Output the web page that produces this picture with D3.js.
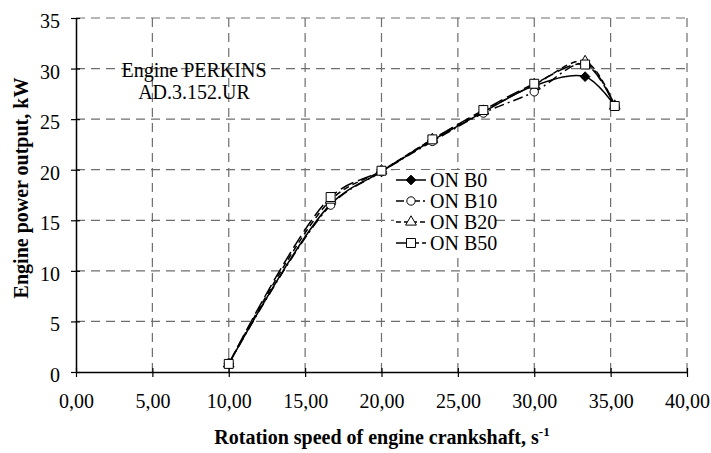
<!DOCTYPE html>
<html>
<head>
<meta charset="utf-8">
<script src="https://cdn.jsdelivr.net/npm/d3@7"></script>
<style>
  body { margin: 0; background: #fff; }
  text { font-family: "Liberation Serif", "Times New Roman", serif; fill: #000; }
</style>
</head>
<body>
<div id="chart"></div>
<script>
// rotation speed, s^-1
const speeds = [10.0, 16.67, 20.0, 23.33, 26.67, 30.0, 33.33, 35.27];
// engine power output, kW
const onB0  = [0.8, 16.6, 19.8, 22.9, 25.7, 28.3, 29.2, 26.3];
const onB10 = [0.8, 16.5, 19.8, 22.8, 25.6, 27.7, 30.5, 26.3];
const onB20 = [0.8, 17.0, 19.9, 23.0, 25.8, 28.4, 30.7, 26.3];
const onB50 = [0.8, 17.3, 19.9, 23.0, 25.9, 28.5, 30.4, 26.3];
const seriesNames = ['ON B0', 'ON B10', 'ON B20', 'ON B50'];
const xTicks = [0, 5, 10, 15, 20, 25, 30, 35, 40];
const yTicks = [0, 5, 10, 15, 20, 25, 30, 35];

const W = 711, H = 453;
const margin = { top: 18, right: 24, bottom: 81, left: 76 };
const width = W - margin.left - margin.right;
const height = H - margin.top - margin.bottom;

const svg = d3.select('#chart').append('svg')
    .attr('width', W).attr('height', H);
const g = svg.append('g')
    .attr('transform', `translate(${margin.left},${margin.top})`);

const x = d3.scaleLinear().domain([0, 40]).range([0, width]);
const y = d3.scaleLinear().domain([0, 35]).range([height, 0]);

// grid
g.selectAll('.vgrid').data(xTicks.slice(1)).enter().append('line')
    .attr('x1', d => x(d)).attr('x2', d => x(d))
    .attr('y1', 0).attr('y2', height)
    .attr('stroke', '#6e6e6e').attr('stroke-width', 1.2)
    .attr('stroke-dasharray', '9,6');
g.selectAll('.hgrid').data(yTicks.slice(1)).enter().append('line')
    .attr('x1', 0).attr('x2', width)
    .attr('y1', d => y(d)).attr('y2', d => y(d))
    .attr('stroke', '#6e6e6e').attr('stroke-width', 1.2)
    .attr('stroke-dasharray', '9,6');

// axes
const xAxis = d3.axisBottom(x).tickValues(xTicks)
    .tickFormat(d => d3.format('.2f')(d).replace('.', ','))
    .tickSizeInner(5).tickSizeOuter(0);
const yAxis = d3.axisLeft(y).tickValues(yTicks)
    .tickSizeInner(5).tickSizeOuter(0);

const gx = g.append('g').attr('transform', `translate(0,${height})`).call(xAxis);
const gy = g.append('g').call(yAxis);
[gx, gy].forEach(a => {
    a.select('.domain').attr('stroke', '#000').attr('stroke-width', 1.5);
    a.selectAll('.tick line').attr('stroke', '#000').attr('stroke-width', 1.2);
    a.selectAll('.tick text').style('font-size', '20px')
        .style('font-family', '"Liberation Serif", serif');
});
// ticks cross the axis
gx.selectAll('.tick line').attr('y1', -4).attr('y2', 5);
gy.selectAll('.tick line').attr('x1', 4).attr('x2', -5);
gx.selectAll('.tick text').attr('y', 36).attr('dy', 0);
gy.selectAll('.tick text').attr('x', -16).attr('dy', 9.5);

// series
const styles = [
    { dash: null, legendDash: null, marker: 'diamond', fill: '#000' },
    { dash: '10,4,2,4', legendDash: '8,3,2,3', marker: 'circle', fill: '#fff' },
    { dash: '6,4', legendDash: '5,3', marker: 'triangle', fill: '#fff' },
    { dash: '14,5', legendDash: '10,3', marker: 'square', fill: '#fff' }
];
const allSeries = [onB0, onB10, onB20, onB50];

const line = d3.line()
    .x(d => x(d[0])).y(d => y(d[1]))
    .curve(d3.curveCatmullRom.alpha(0.5));

const symbolOf = {
    diamond: d3.symbol().type(d3.symbolDiamond2).size(60),
    circle: d3.symbol().type(d3.symbolCircle).size(55),
    triangle: d3.symbol().type(d3.symbolTriangle).size(50),
    square: d3.symbol().type(d3.symbolSquare).size(80)
};

allSeries.forEach((vals, i) => {
    const pts = speeds.map((s, k) => [s, vals[k]]);
    g.append('path').datum(pts)
        .attr('d', line)
        .attr('fill', 'none')
        .attr('stroke', '#000')
        .attr('stroke-width', 1.5)
        .attr('stroke-dasharray', styles[i].dash);
});
allSeries.forEach((vals, i) => {
    const pts = speeds.map((s, k) => [s, vals[k]]);
    g.selectAll('.m' + i).data(pts).enter().append('path')
        .attr('transform', d => `translate(${x(d[0])},${y(d[1])})`)
        .attr('d', symbolOf[styles[i].marker])
        .attr('fill', styles[i].fill)
        .attr('stroke', '#000').attr('stroke-width', 1);
});

// legend
const legend = svg.append('g').attr('transform', 'translate(396,180)');
seriesNames.forEach((name, i) => {
    const row = legend.append('g').attr('transform', `translate(0,${i * 21})`);
    row.append('rect').attr('x', -2).attr('y', -10).attr('width', 100).attr('height', 21)
        .attr('fill', '#fff');
    row.append('line').attr('x1', 0).attr('x2', 30).attr('y1', 0).attr('y2', 0)
        .attr('stroke', '#000').attr('stroke-width', 1.5)
        .attr('stroke-dasharray', styles[i].legendDash);
    row.append('path').attr('transform', 'translate(15,0)')
        .attr('d', symbolOf[styles[i].marker])
        .attr('fill', styles[i].fill)
        .attr('stroke', '#000').attr('stroke-width', 1);
    row.append('text').attr('x', 34).attr('y', 7)
        .style('font-size', '20px').text(name);
});

// annotation
const note = svg.append('g').attr('transform', 'translate(194,0)');
note.append('text').attr('x', 0).attr('y', 77).attr('text-anchor', 'middle')
    .style('font-size', '20px').text('Engine PERKINS');
note.append('text').attr('x', 0).attr('y', 99).attr('text-anchor', 'middle')
    .style('font-size', '20px').text('AD.3.152.UR');

// axis titles
const xt = svg.append('text')
    .attr('x', 382).attr('y', 444).attr('text-anchor', 'middle')
    .style('font-size', '20px').style('font-weight', 'bold');
xt.append('tspan').text('Rotation speed of engine crankshaft, s');
xt.append('tspan').attr('dy', -8).style('font-size', '13px').text('-1');

svg.append('text')
    .attr('transform', `translate(28,188) rotate(-90)`)
    .attr('text-anchor', 'middle')
    .style('font-size', '20px').style('font-weight', 'bold')
    .text('Engine power output, kW');
</script>
</body>
</html>
